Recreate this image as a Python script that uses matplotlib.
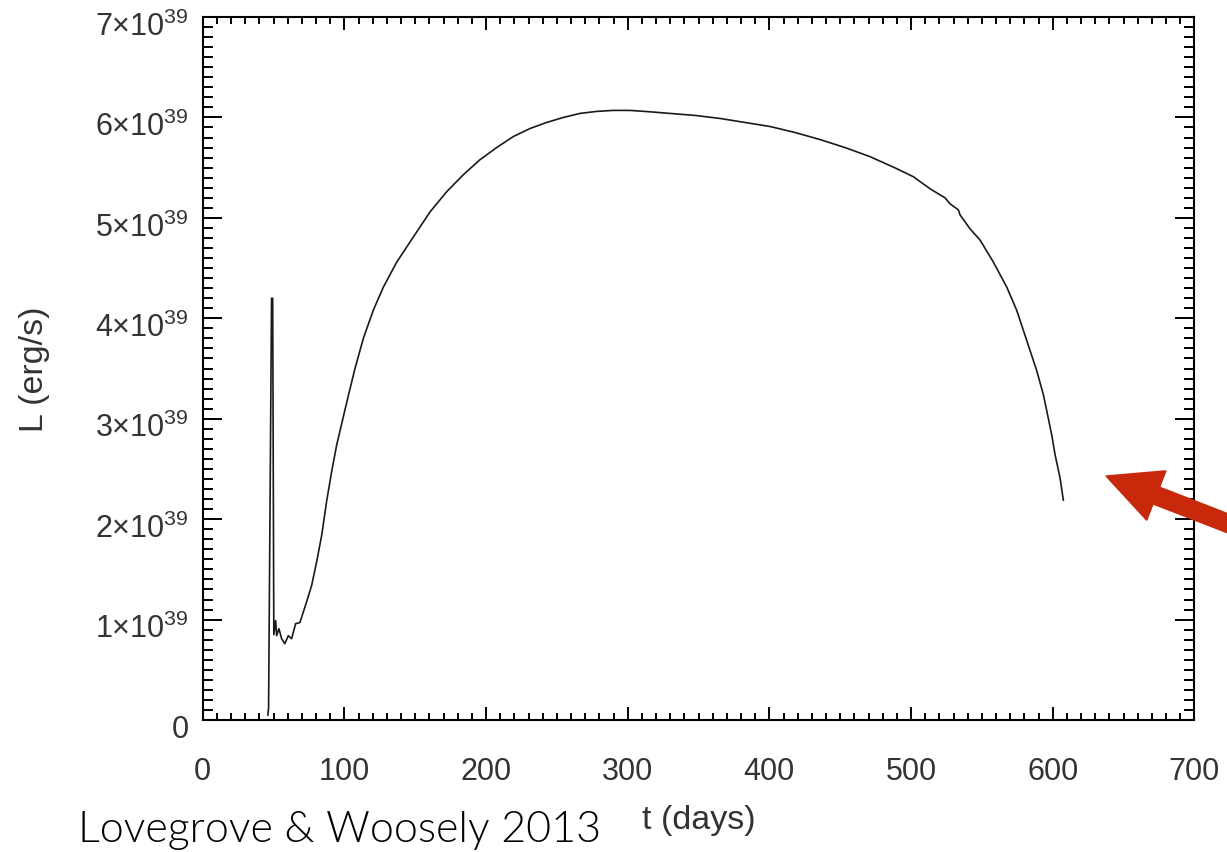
import matplotlib
matplotlib.use('Agg')
import matplotlib.pyplot as plt
from matplotlib.ticker import MultipleLocator, FuncFormatter
from matplotlib.patches import FancyArrow
from matplotlib.transforms import ScaledTranslation

# light curve (t in days, L in 1e39 erg/s)
t_days = [46.0, 46.5, 48.6, 49.4, 50.2, 51.5, 52.2, 53.8, 55.7, 58.0,
          60.4, 62.8, 65.6, 68.6, 73.4, 76.9, 80.5, 84.0, 87.5, 91.1,
          94.6, 98.6, 102.8, 107.5, 113.4, 120.4, 127.5, 137.0, 148.7, 160.5,
          172.2, 184.0, 195.8, 207.5, 219.3, 231.1, 242.8, 254.6, 266.3, 278.1,
          289.9, 301.6, 312.2, 329.8, 347.5, 365.1, 382.7, 400.4, 418.1, 435.7,
          453.4, 471.0, 489.9, 501.6, 513.4, 520.4, 524.0, 527.5, 533.4, 534.6,
          541.7, 548.7, 558.1, 567.6, 574.6, 579.3, 584.0, 588.7, 593.4, 595.8,
          599.3, 601.7, 605.2, 607.5]
lum = [0.05, 0.12, 4.20, 4.20, 0.85, 0.99, 0.84, 0.91, 0.81, 0.76,
       0.84, 0.81, 0.96, 0.97, 1.18, 1.34, 1.58, 1.84, 2.18, 2.48,
       2.74, 2.98, 3.23, 3.50, 3.80, 4.08, 4.31, 4.56, 4.81, 5.06,
       5.26, 5.43, 5.58, 5.70, 5.81, 5.89, 5.95, 6.00, 6.04, 6.06,
       6.07, 6.07, 6.06, 6.04, 6.02, 5.99, 5.95, 5.91, 5.85, 5.78,
       5.70, 5.61, 5.49, 5.41, 5.29, 5.23, 5.20, 5.14, 5.08, 5.03,
       4.89, 4.78, 4.56, 4.31, 4.08, 3.88, 3.68, 3.48, 3.24, 3.08,
       2.84, 2.64, 2.41, 2.19]

x_ticks = [0, 100, 200, 300, 400, 500, 600, 700]
y_ticks = [0, 1, 2, 3, 4, 5, 6, 7]

plt.rcParams['font.family'] = ['Liberation Sans', 'DejaVu Sans']
plt.rcParams['mathtext.fontset'] = 'custom'
plt.rcParams['mathtext.rm'] = 'Liberation Sans'

fig = plt.figure(figsize=(12.27, 8.53), dpi=100)
ax = fig.add_axes([0.1652, 0.1547, 0.8082, 0.8242])

ax.plot(t_days, lum, color='#1a1a1a', linewidth=1.2)

ax.set_xlim(0, 700)
ax.set_ylim(0, 7)
ax.set_xticks(x_ticks)
ax.set_yticks(y_ticks)
ax.xaxis.set_minor_locator(MultipleLocator(10))
ax.yaxis.set_minor_locator(MultipleLocator(0.1))


def ylab(v, pos):
    if v == 0:
        return '0'
    return r'%d$\times$10$^{39}$' % v


ax.yaxis.set_major_formatter(FuncFormatter(ylab))

ax.tick_params(which='both', direction='in', top=True, right=True,
               width=1.4, colors='black', labelcolor='#333333', labelsize=22)
ax.tick_params(axis='x', which='major', length=9.5, pad=26)
ax.tick_params(axis='x', which='minor', length=5)
ax.tick_params(axis='y', which='major', length=13.5, pad=10)
ax.tick_params(axis='y', which='minor', length=7)
for s in ax.spines.values():
    s.set_linewidth(1.5)

# nudge the y labels down a little, like the original
shift = ScaledTranslation(0, -4 / 72, fig.dpi_scale_trans)
for lbl in ax.get_yticklabels():
    lbl.set_transform(lbl.get_transform() + shift)

ax.set_xlabel('t (days)', fontsize=24.5, color='#333333')
ax.set_ylabel('L (erg/s)', fontsize=24.5, color='#333333')
ax.xaxis.set_label_coords(0.5, -0.1195)
ax.yaxis.set_label_coords(-0.154, 0.5)

fig.text(78 / 1227, 1 - 842 / 853, 'Lovegrove & Woosely 2013',
         family='Lato', fontweight=300, fontsize=31, color='black',
         va='baseline', ha='left')

arrow = FancyArrow(12.45, 3.22, -1.39, 0.54,
                   width=0.18, head_width=0.53, head_length=0.54,
                   length_includes_head=True, color='#c8290a',
                   transform=fig.dpi_scale_trans)
fig.add_artist(arrow)

fig.savefig('out.png', dpi=100)
